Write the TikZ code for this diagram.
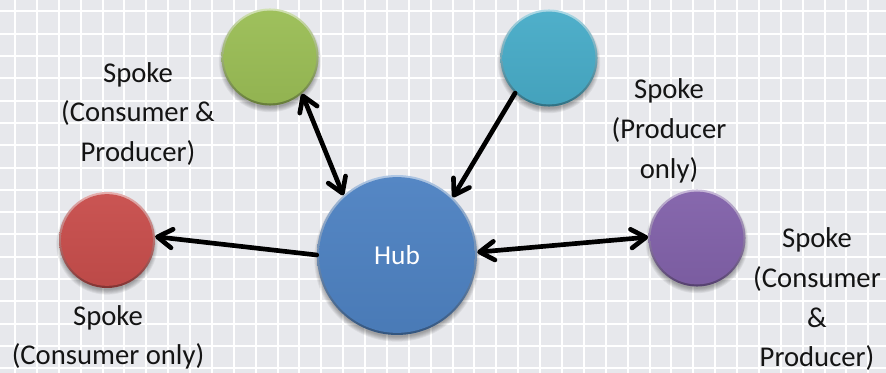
\documentclass[tikz,border=0pt]{standalone}
\usepackage{fontspec}
\setmainfont{Carlito}
\usetikzlibrary{arrows.meta}
\definecolor{bgcol}{RGB}{231,232,236}
\definecolor{grn}{RGB}{155,190,86}
\definecolor{cya}{RGB}{72,172,200}
\definecolor{blu}{RGB}{78,130,194}
\definecolor{rd}{RGB}{200,78,76}
\definecolor{pur}{RGB}{130,98,170}
\tikzset{
  ball/.style 2 args={circle, inner sep=0pt, minimum size=#2,
    top color=#1!45!white, bottom color=#1!65!black,
    path picture={\shade[top color=#1!96!white, bottom color=#1!94!black]
      (path picture bounding box.center) circle[radius=#2/2-1.6pt];}},
  lbl/.style={align=center, inner sep=0pt, text=black!92,
    font=\fontsize{21.5pt}{29.75pt}\selectfont},
  conn/.style={line width=3.5pt, line cap=round, black},
  >={Straight Barb[length=11pt,width=14pt,round]}
}
\begin{document}
\begin{tikzpicture}[x=0.75pt,y=-0.75pt]
\useasboundingbox (0,0) rectangle (886,373);
% background grid
\fill[bgcol] (0,0) rectangle (886,373);
\begin{scope}
\clip (0,0) rectangle (886,373);
\foreach \i in {0,...,40} \draw[white, line width=1.5pt] ({15+21.88*\i},0) -- ++(0,373);
\foreach \j in {0,...,17} \draw[white, line width=1.5pt] (0,{11.5+22.3*\j}) -- ++(886,0);
\end{scope}
% soft shadows
\foreach \x/\y/\r in {270/57/36.4, 549/58/36.4, 397/255/60, 107/240/36, 697/238/36.4}
  \foreach \k in {0,...,5}
    \fill[black, opacity=0.06] (\x,\y+4) circle[radius={\r pt+\k*0.7pt-1.5pt}];
% balls
\node[ball={grn}{72.8pt}] (green) at (270,57) {};
\node[ball={cya}{72.8pt}] (cyan) at (549,58) {};
\node[ball={blu}{120pt}, text=white, font=\fontsize{20.5pt}{24pt}\selectfont] (hub) at (397,255) {Hub};
\node[ball={rd}{72pt}] (red) at (107,240) {};
\node[ball={pur}{72.8pt}] (purple) at (697,238) {};
% connectors
\draw[conn,->] (hub.180) -- (red.4);
\draw[conn,<->] (hub.2) -- (purple.179);
\draw[conn,<->] (green.-49) -- (hub.132);
\draw[conn,->] (cyan.-134) -- (hub.46);
% labels
\node[lbl] (t1) at (138,114) {Spoke\\(Consumer \&\\Producer)};
\node[lbl] (t2) at (669,131) {Spoke\\(Producer\\only)};
\node[lbl] (t3) at (108,337.5) {Spoke\\(Consumer only)};
\node[lbl] (t4) at (817,299.5) {Spoke\\(Consumer\\\&\\Producer)};
\end{tikzpicture}
\end{document}
